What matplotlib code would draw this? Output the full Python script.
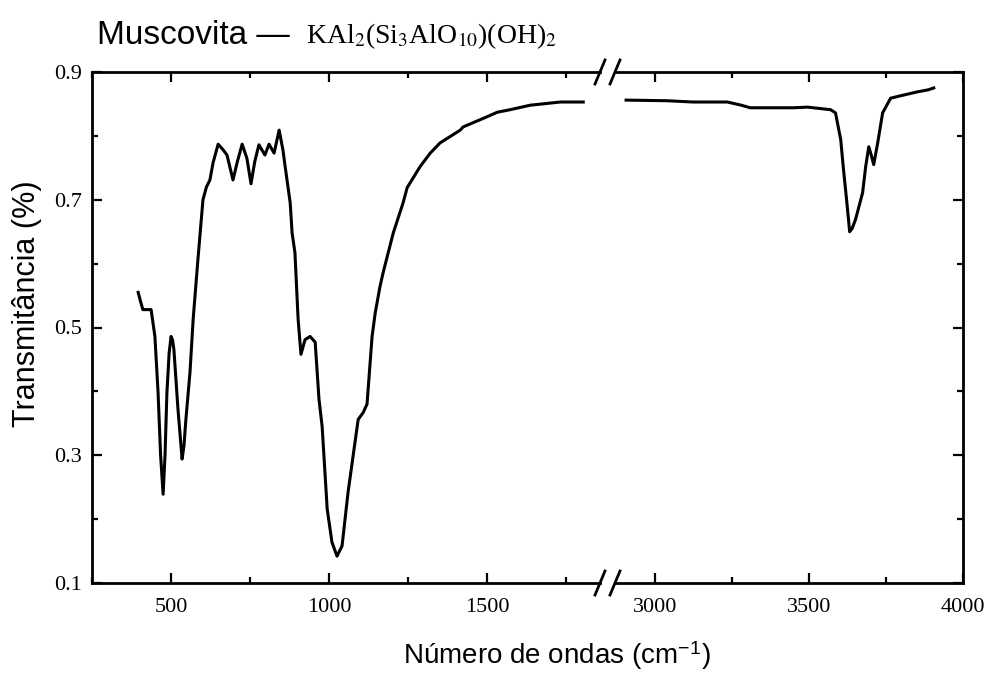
import matplotlib
matplotlib.use("Agg")
from matplotlib import pyplot as plt
from matplotlib.ticker import MultipleLocator

# Wavenumber (cm-1) vs transmittance, low-frequency part (before the axis break)
wn_low = [396, 404, 411, 437, 449, 459, 467, 475, 481, 487, 494, 500, 505, 509,
          522, 535, 541, 547, 560, 570, 585, 601, 612, 623, 633, 649, 665, 677,
          696, 710, 725, 740, 753, 765, 778, 797, 810, 826, 842, 854, 861, 877,
          883, 892, 899, 902, 911, 924, 940, 956, 968, 978, 994, 1009, 1025, 1041,
          1060, 1092, 1108, 1120, 1136, 1146, 1161, 1171, 1203, 1234, 1247, 1288,
          1320, 1351, 1415, 1424, 1500, 1532, 1573, 1636, 1731, 1804]
tr_low = [0.555, 0.540, 0.528, 0.528, 0.486, 0.398, 0.300, 0.239, 0.300, 0.398,
          0.460, 0.486, 0.480, 0.466, 0.372, 0.294, 0.315, 0.356, 0.430, 0.513,
          0.606, 0.700, 0.720, 0.731, 0.758, 0.787, 0.778, 0.770, 0.731, 0.760,
          0.787, 0.765, 0.725, 0.760, 0.786, 0.770, 0.787, 0.773, 0.809, 0.778,
          0.752, 0.695, 0.648, 0.617, 0.544, 0.513, 0.458, 0.481, 0.486, 0.477,
          0.388, 0.345, 0.216, 0.164, 0.142, 0.158, 0.242, 0.356, 0.367, 0.380,
          0.486, 0.523, 0.564, 0.586, 0.648, 0.695, 0.719, 0.752, 0.773, 0.789,
          0.809, 0.814, 0.830, 0.837, 0.841, 0.848, 0.853, 0.853]

# High-frequency part (after the break)
wn_high = [2906, 3039, 3124, 3235, 3280, 3309, 3450, 3495, 3570, 3586, 3603,
           3612, 3622, 3632, 3640, 3651, 3674, 3684, 3694, 3702, 3710, 3723,
           3739, 3765, 3808, 3853, 3886, 3905]
tr_high = [0.856, 0.855, 0.853, 0.853, 0.848, 0.844, 0.844, 0.845, 0.841, 0.836,
           0.794, 0.747, 0.700, 0.650, 0.655, 0.669, 0.711, 0.752, 0.783, 0.770,
           0.755, 0.789, 0.836, 0.859, 0.864, 0.869, 0.872, 0.875]

low_ticks = [500, 1000, 1500]
high_ticks = [3000, 3500, 4000]
y_ticks = [0.1, 0.3, 0.5, 0.7, 0.9]

plt.rcParams['mathtext.fontset'] = 'stix'
W, H = 988, 682
fig = plt.figure(figsize=(W / 100, H / 100), dpi=100)

# axes placed in pixel units, left part 92..600, right part 615..963
top, bottom = 72, 583
def px_axes(x0, x1):
    return fig.add_axes([x0 / W, 1 - bottom / H, (x1 - x0) / W, (bottom - top) / H])

ax1 = px_axes(92, 600)
ax2 = px_axes(615, 963)

lw = 2.2
ax1.plot(wn_low, tr_low, color="black", lw=lw, solid_joinstyle="round")
ax2.plot(wn_high, tr_high, color="black", lw=lw, solid_joinstyle="round")

ax1.set_xlim(250, 1857)
ax2.set_xlim(2870, 4000)
tick_font = dict(family="Liberation Serif", size=16)
for ax in (ax1, ax2):
    ax.set_ylim(0.1, 0.9)
    ax.yaxis.set_major_locator(MultipleLocator(0.2))
    ax.yaxis.set_minor_locator(MultipleLocator(0.1))
    ax.xaxis.set_minor_locator(MultipleLocator(250))
    for s in ax.spines.values():
        s.set_linewidth(2.0)
    ax.tick_params(which="both", direction="in", top=True, bottom=True,
                   width=1.6, pad=11)
    ax.tick_params(which="major", length=7)
    ax.tick_params(which="minor", length=4.5)

ax1.set_xticks(low_ticks)
ax2.set_xticks(high_ticks)
ax1.set_yticks(y_ticks)
ax2.set_yticks(y_ticks)
ax1.spines["right"].set_visible(False)
ax2.spines["left"].set_visible(False)
ax1.tick_params(axis="y", which="both", left=True, right=False, pad=7)
ax2.tick_params(axis="y", which="both", left=False, right=True, labelleft=False)
ax1.set_yticklabels([f"{v:.1f}" for v in y_ticks], **tick_font)
ax1.set_xticklabels([str(v) for v in low_ticks], **tick_font)
ax2.set_xticklabels([str(v) for v in high_ticks], **tick_font)

# break marks "//"
kw = dict(color="black", lw=2.0, clip_on=False)
for ax, xe, wpx in ((ax1, 1.0, 600 - 92), (ax2, 0.0, 963 - 615)):
    dx, dy = 5 / wpx, 12 / (bottom - top)
    for ye in (0.0, 1.0):
        ax.plot([xe - dx, xe + dx], [ye - dy, ye + dy], transform=ax.transAxes, **kw)

fig.text(97 / W, 1 - 36 / H, "Muscovita \u2014", family="Liberation Sans",
         size=24, va="center", ha="left")
fig.text(306 / W, 1 - 36 / H, r"KAl$_2$(Si$_3$AlO$_{10}$)(OH)$_2$",
         family="Liberation Serif", size=20, va="center", ha="left")
fig.text(557 / W, 1 - 656 / H, r"Número de ondas (cm$^{\mathregular{-1}}$)",
         family="Liberation Sans", size=20, va="center", ha="center")
fig.text(27 / W, 1 - 304 / H, "Transmitância (%)", family="Liberation Sans",
         size=22, va="center", ha="center", rotation=90)

plt.savefig("out.png", dpi=100)
